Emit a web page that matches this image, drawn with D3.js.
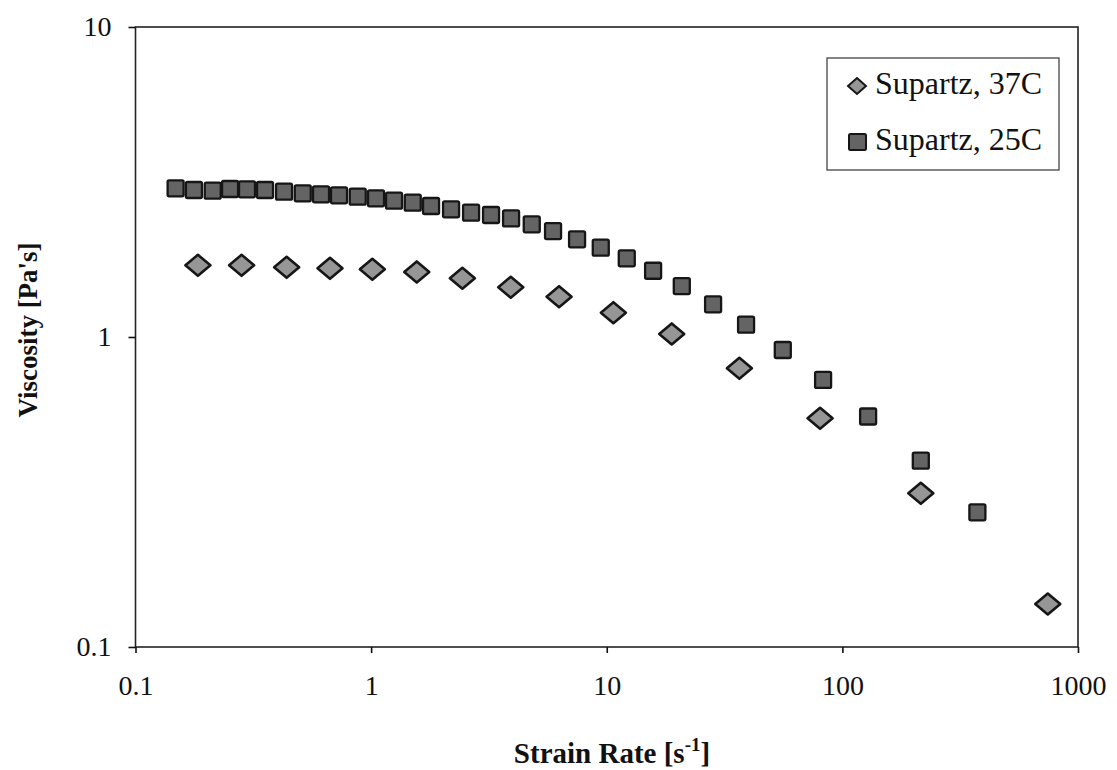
<!DOCTYPE html>
<html>
<head>
<meta charset="utf-8">
<script src="https://cdn.jsdelivr.net/npm/d3@7"></script>
<style>
    body { margin: 0; background: #fff; }
    svg text { font-family: 'Liberation Serif', 'Times New Roman', serif; fill: #111; }
    .axis path, .axis line { stroke: #111; stroke-width: 1.6; }
</style>
</head>
<body>
<div id="chart"></div>
<script>
// Data
const rate37 = [0.184, 0.282, 0.438, 0.669, 1.012, 1.562, 2.439, 3.914, 6.276, 10.67, 18.87, 36.55, 80.42, 215.2, 744.2];
const visc37 = [1.703, 1.703, 1.678, 1.666, 1.653, 1.621, 1.547, 1.447, 1.349, 1.198, 1.023, 0.7925, 0.5466, 0.3132, 0.1376];

const rate25 = [0.148, 0.177, 0.2127, 0.252, 0.2974, 0.3545, 0.427, 0.5127, 0.613, 0.7307, 0.8774, 1.049, 1.251,
    1.502, 1.796, 2.184, 2.656, 3.228, 3.926, 4.805, 5.917, 7.482, 9.432, 12.16, 15.73, 20.82, 28.27, 39.02,
    55.86, 82.83, 128.6, 215.2, 374.1];
const visc25 = [3.017, 2.98, 2.964, 3.002, 2.995, 2.98, 2.942, 2.907, 2.886, 2.865, 2.835, 2.802, 2.753,
    2.712, 2.646, 2.582, 2.518, 2.475, 2.412, 2.309, 2.197, 2.066, 1.942, 1.794, 1.636, 1.46, 1.275, 1.096,
    0.908, 0.727, 0.554, 0.399, 0.272];

const xTicks = [0.1, 1, 10, 100, 1000];
const yTicks = [0.1, 1, 10];
const seriesNames = ['Supartz, 37C', 'Supartz, 25C'];

const chart = {
    totalWidth: 1117,
    totalHeight: 770,
    margin: { top: 27, left: 135.5, right: 39, bottom: 123 }
};
chart.width = chart.totalWidth - chart.margin.left - chart.margin.right;
chart.height = chart.totalHeight - chart.margin.top - chart.margin.bottom;

const svg = d3.select('#chart')
    .append('svg')
    .attr('width', chart.totalWidth)
    .attr('height', chart.totalHeight);

const g = svg.append('g')
    .attr('transform', `translate(${chart.margin.left}, ${chart.margin.top})`);

// Scales
const xScale = d3.scaleLog().domain([0.1, 1000]).range([0, chart.width]);
const yScale = d3.scaleLog().domain([0.1, 10]).range([chart.height, 0]);

// Plot frame
g.append('rect')
    .attr('width', chart.width)
    .attr('height', chart.height)
    .attr('fill', 'none')
    .attr('stroke', '#222')
    .attr('stroke-width', 1.6);

// Axes
const xAxis = d3.axisBottom(xScale)
    .tickValues(xTicks)
    .tickFormat(d => String(d))
    .tickSize(6)
    .tickPadding(22)
    .tickSizeOuter(0);

g.append('g')
    .classed('axis', true)
    .attr('transform', `translate(0, ${chart.height})`)
    .call(xAxis)
    .selectAll('text')
    .style('font-size', '28px');

const yAxis = d3.axisLeft(yScale)
    .tickValues(yTicks)
    .tickFormat(d => String(d))
    .tickSize(7)
    .tickPadding(17)
    .tickSizeOuter(0);

g.append('g')
    .classed('axis', true)
    .call(yAxis)
    .selectAll('text')
    .style('font-size', '28px');

g.selectAll('.axis .domain').remove();

// Axis titles
const xTitle = svg.append('text')
    .attr('x', 612)
    .attr('y', 763)
    .attr('text-anchor', 'middle')
    .style('font-size', '29px')
    .style('font-weight', 'bold');
xTitle.append('tspan').text('Strain Rate [s');
xTitle.append('tspan').attr('dy', -12).style('font-size', '19px').text('-1');
xTitle.append('tspan').attr('dy', 12).text(']');

svg.append('text')
    .attr('transform', `translate(37, 330) rotate(-90)`)
    .attr('text-anchor', 'middle')
    .style('font-size', '27px')
    .style('font-weight', 'bold')
    .text("Viscosity [Pa's]");

// Markers
const diamond = (hw, hh) => `M0,${-hh}L${hw},0L0,${hh}L${-hw},0Z`;

g.append('g')
    .selectAll('path')
    .data(rate37.map((r, i) => ({ x: r, y: visc37[i] })))
    .enter()
    .append('path')
    .attr('transform', d => `translate(${xScale(d.x)}, ${yScale(d.y)})`)
    .attr('d', diamond(12.5, 10.5))
    .attr('fill', '#969696')
    .attr('stroke', '#161616')
    .attr('stroke-width', 2.6)
    .attr('stroke-linejoin', 'round');

g.append('g')
    .selectAll('rect')
    .data(rate25.map((r, i) => ({ x: r, y: visc25[i] })))
    .enter()
    .append('rect')
    .attr('x', d => xScale(d.x) - 8)
    .attr('y', d => yScale(d.y) - 8)
    .attr('width', 16)
    .attr('height', 16)
    .attr('rx', 1.5)
    .attr('fill', '#646464')
    .attr('stroke', '#161616')
    .attr('stroke-width', 2.3);

// Legend
const legend = svg.append('g')
    .attr('transform', 'translate(827, 58)');

legend.append('rect')
    .attr('width', 232)
    .attr('height', 112)
    .attr('fill', '#fff')
    .attr('stroke', '#444')
    .attr('stroke-width', 1.3);

legend.append('path')
    .attr('transform', 'translate(30, 28)')
    .attr('d', diamond(9, 8))
    .attr('fill', '#969696')
    .attr('stroke', '#161616')
    .attr('stroke-width', 2);

legend.append('rect')
    .attr('x', 22)
    .attr('y', 76)
    .attr('width', 17)
    .attr('height', 16)
    .attr('rx', 1.5)
    .attr('fill', '#646464')
    .attr('stroke', '#161616')
    .attr('stroke-width', 2);

legend.selectAll('.label')
    .data(seriesNames)
    .enter()
    .append('text')
    .classed('label', true)
    .attr('x', 48)
    .attr('y', (d, i) => 36 + i * 56)
    .style('font-size', '32px')
    .text(d => d);
</script>
</body>
</html>
